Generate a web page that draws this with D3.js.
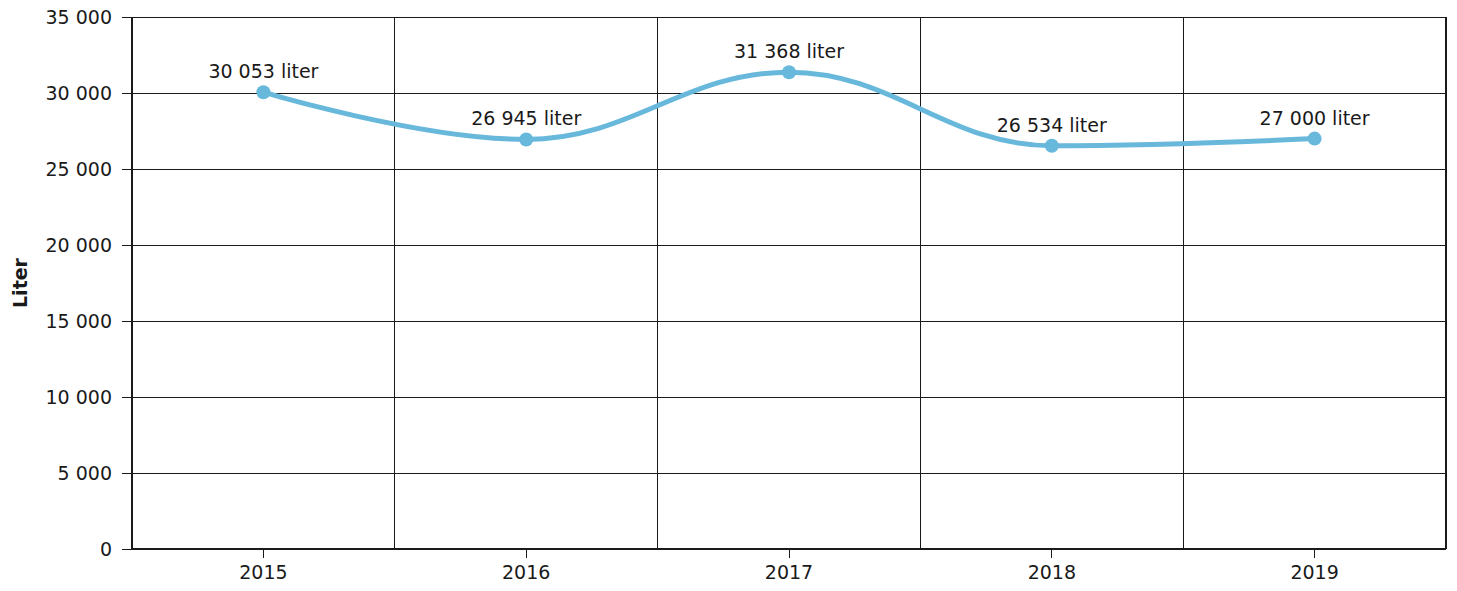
<!DOCTYPE html>
<html>
<head>
<meta charset="utf-8">
<script src="https://cdn.jsdelivr.net/npm/d3@7"></script>
<style>
  html, body { margin: 0; padding: 0; background: #fff; }
  svg { display: block; font-family: "DejaVu Sans", Verdana, sans-serif; }
  .grid line { stroke: #1a1a1a; stroke-width: 1; shape-rendering: crispEdges; }
  .grid .domain { display: none; }
  .axis line { stroke: #1a1a1a; shape-rendering: crispEdges; }
  .axis .domain { display: none; }
</style>
</head>
<body>
<svg id="chart"></svg>
<script>
/** Categories (years). */
const years = ["2015", "2016", "2017", "2018", "2019"];
/** Volume per year, liter. */
const liters = [30053, 26945, 31368, 26534, 27000];
/** Y tick values. */
const yTicks = [0, 5000, 10000, 15000, 20000, 25000, 30000, 35000];

const width = 1457;
const height = 591;
const margin = { top: 17, right: 11, bottom: 42, left: 132 };
const innerW = width - margin.left - margin.right;
const innerH = height - margin.top - margin.bottom;
const ink = "#1a1a1a";
const lineColor = "#68b8dc";

/** Space as thousands separator. */
const locale = d3.formatLocale({ decimal: ",", thousands: " ", grouping: [3], currency: ["", ""] });
const fmt = locale.format(",d");

const svg = d3.select("#chart").attr("width", width).attr("height", height);
const g = svg.append("g").attr("transform", `translate(${margin.left},${margin.top})`);

const x = d3.scaleBand().domain(years).range([0, innerW]).padding(0);
const y = d3.scaleLinear().domain([0, 35000]).range([innerH, 0]);

// horizontal grid
g.append("g")
  .attr("class", "grid")
  .call(d3.axisLeft(y).tickValues(yTicks).tickSize(-innerW).tickFormat(""));

// vertical grid at category boundaries
const bounds = years.map((d) => x(d)).concat([x(years[years.length - 1]) + x.bandwidth()]);
g.append("g")
  .attr("class", "grid")
  .selectAll("line")
  .data(bounds)
  .join("line")
  .attr("x1", (d) => d)
  .attr("x2", (d) => d)
  .attr("y1", 0)
  .attr("y2", innerH);

// y axis
g.append("g")
  .attr("class", "axis")
  .call(d3.axisLeft(y).tickValues(yTicks).tickSize(10).tickPadding(10).tickFormat(fmt))
  .attr("font-size", 19)
  .attr("font-family", "DejaVu Sans, Verdana, sans-serif")
  .selectAll("text")
  .attr("fill", ink)
  .attr("dy", "0.35em");

// x axis
g.append("g")
  .attr("class", "axis")
  .attr("transform", `translate(0,${innerH})`)
  .call(d3.axisBottom(x).tickSize(9).tickPadding(8))
  .attr("font-size", 19)
  .attr("font-family", "DejaVu Sans, Verdana, sans-serif")
  .selectAll("text")
  .attr("fill", ink);

// frame lines (left, right, bottom)
[[0, 0, 0, innerH], [innerW, 0, innerW, innerH], [0, innerH, innerW, innerH]].forEach(([x1, y1, x2, y2]) => {
  g.append("line").attr("x1", x1).attr("y1", y1).attr("x2", x2).attr("y2", y2)
    .attr("stroke", ink).attr("stroke-width", 2);
});

// y axis title
svg.append("text")
  .attr("transform", `translate(27,${margin.top + innerH / 2}) rotate(-90)`)
  .attr("text-anchor", "middle")
  .attr("font-size", 19)
  .attr("font-weight", "bold")
  .attr("fill", ink)
  .text("Liter");

const pts = years.map((d, i) => ({ year: d, v: liters[i] }));
const cx = (d) => x(d.year) + x.bandwidth() / 2;
const cy = (d) => y(d.v);

/** Smoothed spline (control points flattened at local extremes). */
function splinePath(data) {
  const p = data.map((d) => [cx(d), cy(d)]);
  const sm = 1.5, den = sm + 1;
  const conts = p.map(([px, py], i) => {
    if (i === 0 || i === p.length - 1) return null;
    const [lx, ly] = p[i - 1], [nx, ny] = p[i + 1];
    const lcx = (sm * px + lx) / den, rcx = (sm * px + nx) / den;
    let lcy = (sm * py + ly) / den, rcy = (sm * py + ny) / den;
    const corr = ((rcy - lcy) * (rcx - px)) / (rcx - lcx) + py - rcy;
    lcy += corr; rcy += corr;
    if (lcy > ly && lcy > py) { lcy = Math.max(ly, py); rcy = 2 * py - lcy; }
    else if (lcy < ly && lcy < py) { lcy = Math.min(ly, py); rcy = 2 * py - lcy; }
    if (rcy > ny && rcy > py) { rcy = Math.max(ny, py); lcy = 2 * py - rcy; }
    else if (rcy < ny && rcy < py) { rcy = Math.min(ny, py); lcy = 2 * py - rcy; }
    return { l: [lcx, lcy], r: [rcx, rcy] };
  });
  const path = d3.path();
  path.moveTo(p[0][0], p[0][1]);
  for (let i = 1; i < p.length; i++) {
    const c1 = conts[i - 1] ? conts[i - 1].r : p[i - 1];
    const c2 = conts[i] ? conts[i].l : p[i];
    path.bezierCurveTo(c1[0], c1[1], c2[0], c2[1], p[i][0], p[i][1]);
  }
  return path.toString();
}

g.append("path")
  .attr("d", splinePath(pts))
  .attr("fill", "none")
  .attr("stroke", lineColor)
  .attr("stroke-width", 5)
  .attr("stroke-linecap", "round");

g.selectAll(".dot")
  .data(pts)
  .join("circle")
  .attr("class", "dot")
  .attr("cx", cx)
  .attr("cy", cy)
  .attr("r", 7)
  .attr("fill", lineColor);

g.selectAll(".lbl")
  .data(pts)
  .join("text")
  .attr("class", "lbl")
  .attr("x", cx)
  .attr("y", (d) => cy(d) - 14)
  .attr("text-anchor", "middle")
  .attr("font-size", 19)
  .attr("fill", ink)
  .text((d) => `${fmt(d.v)} liter`);
</script>
</body>
</html>
